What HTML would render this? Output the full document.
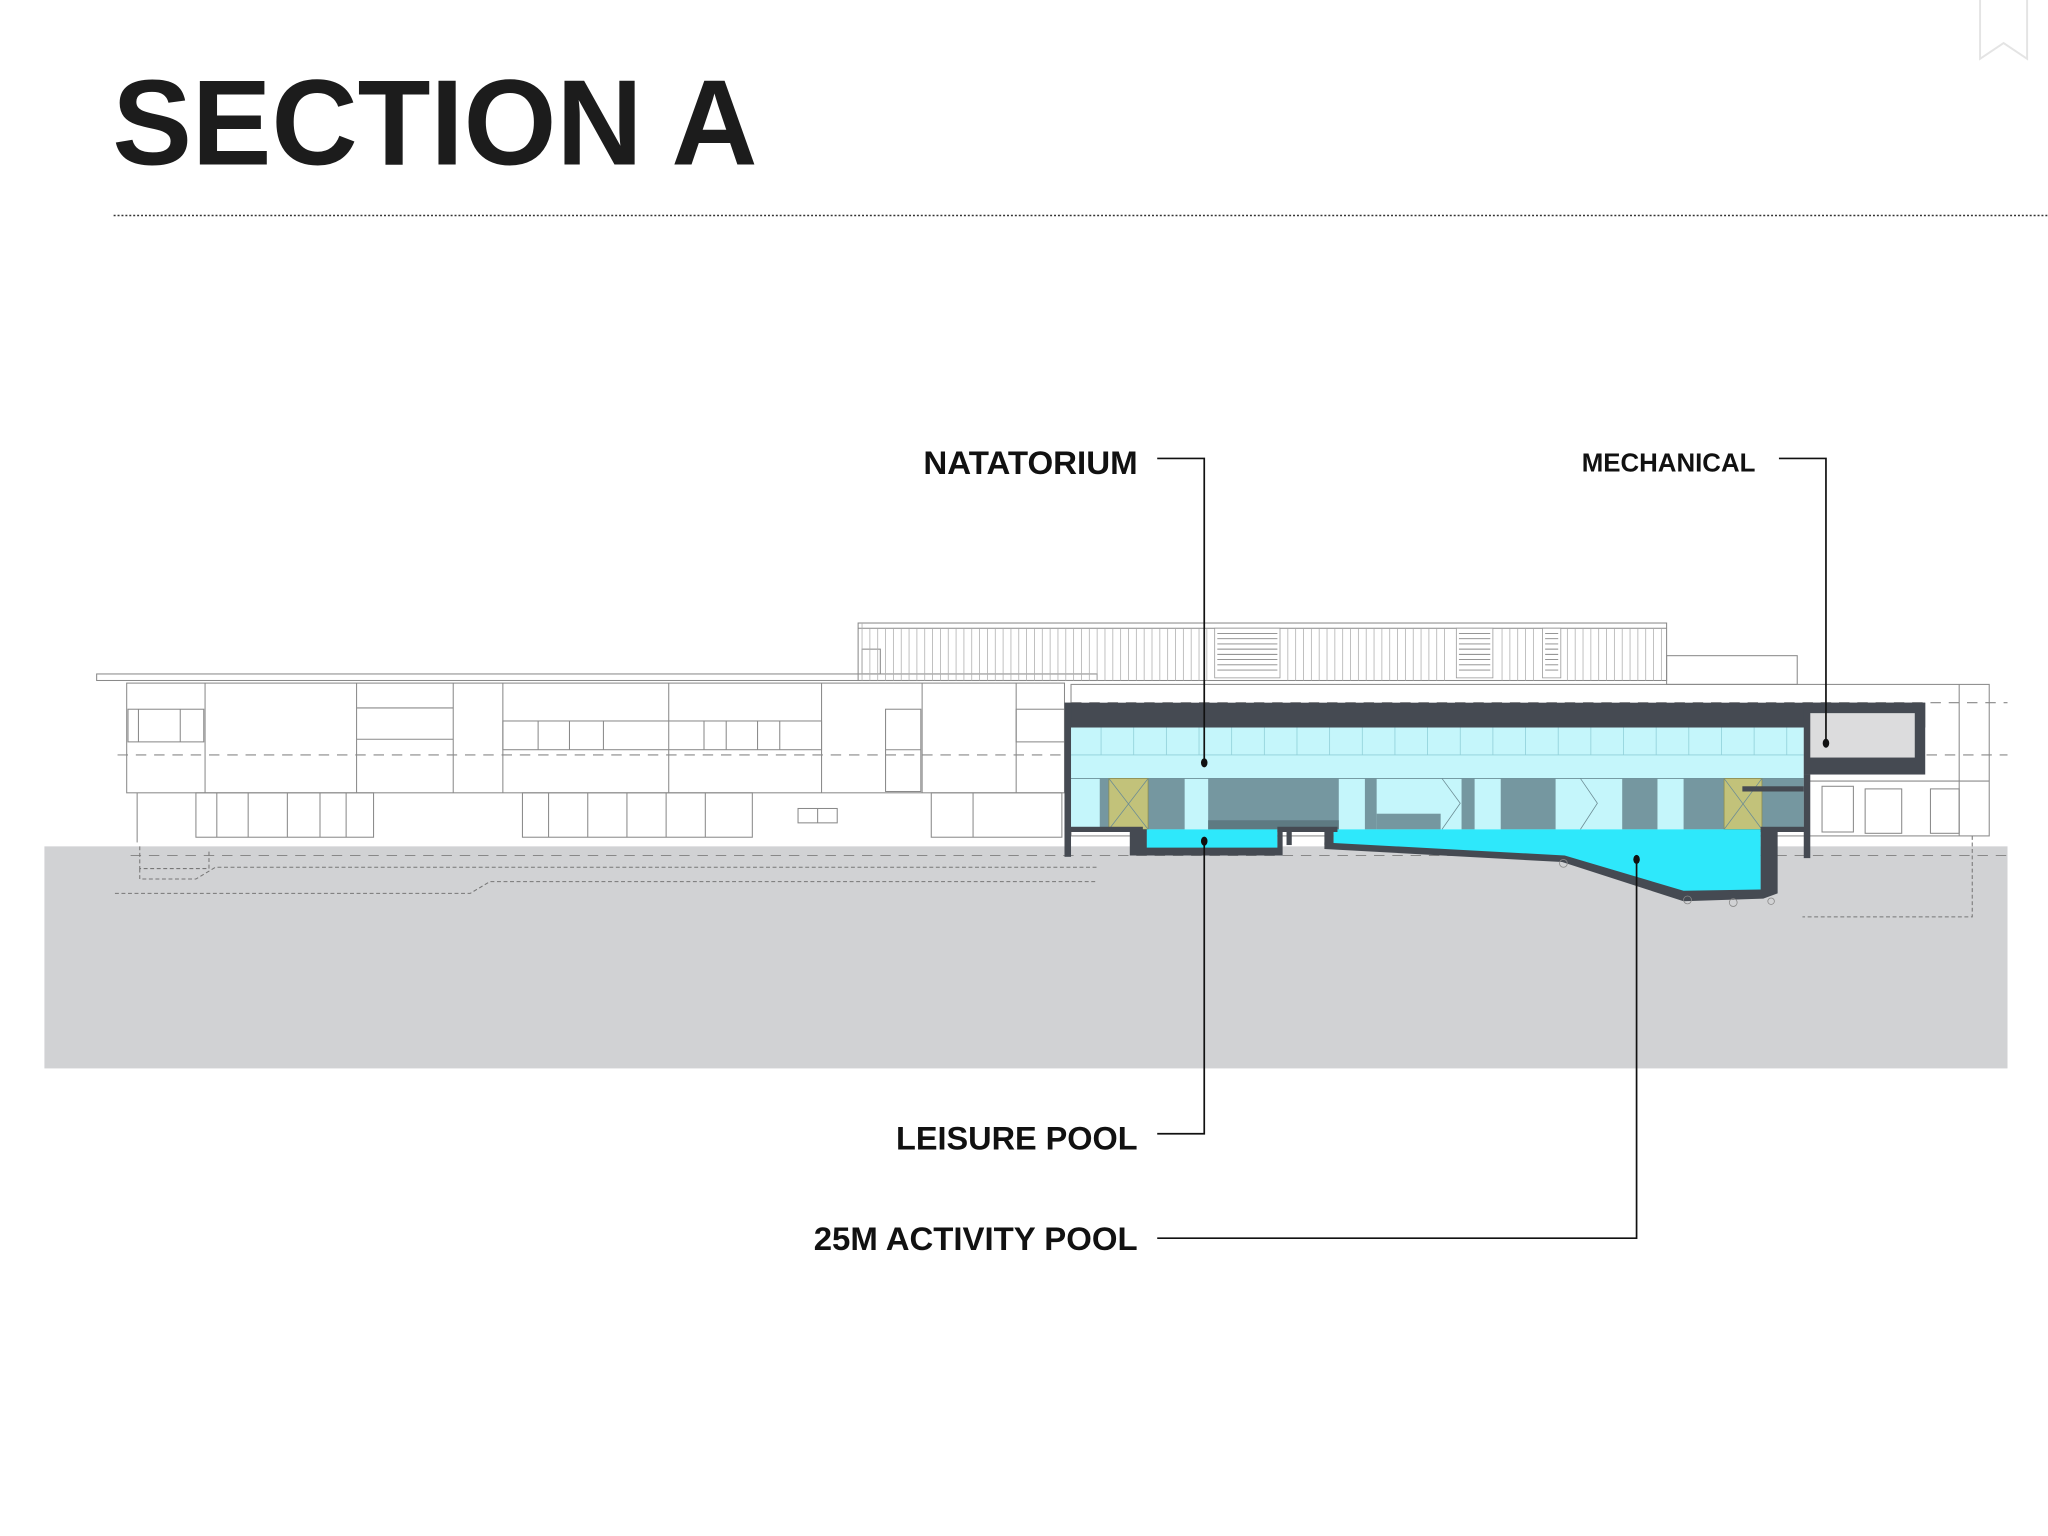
<!DOCTYPE html>
<html><head><meta charset="utf-8"><style>
html,body{margin:0;padding:0;background:#fff;}
svg{display:block;}
</style></head><body>
<svg width="2048" height="1536" viewBox="0 0 1568 1176" xmlns="http://www.w3.org/2000/svg">
<rect width="1568" height="1176" fill="#fff"/>
<!-- bookmark icon -->
<path d="M1516 0 V45 L1534 33 L1552 45 V0" fill="none" stroke="#e4e4e4" stroke-width="1.5"/>
<!-- title -->
<text x="86" y="126" font-family="Liberation Sans, sans-serif" font-weight="bold" font-size="93" fill="#1c1c1c" textLength="494" lengthAdjust="spacingAndGlyphs">SECTION A</text>
<line x1="87" y1="165" x2="1568" y2="165" stroke="#333" stroke-width="1.2" stroke-dasharray="1.5,1.5"/>

<!-- ground -->
<rect x="34" y="648" width="1503" height="170" fill="#d1d2d4"/>

<!-- background linework -->
<g fill="none" stroke="#8a8a8a" stroke-width="0.8">
  <!-- upper rooftop structure -->
  <rect x="657" y="477" width="619" height="44"/>
  <line x1="657" y1="481" x2="1276" y2="481"/>
  <rect x="1276" y="502" width="100" height="22"/>
  <rect x="660" y="497" width="14" height="19"/>
  <!-- left building -->
  <rect x="74" y="516" width="766" height="5"/>
  <rect x="97" y="523" width="718" height="84"/>
  <line x1="157" y1="523" x2="157" y2="607"/><line x1="273" y1="523" x2="273" y2="607"/>
  <line x1="347" y1="523" x2="347" y2="607"/><line x1="385" y1="523" x2="385" y2="607"/>
  <line x1="512" y1="523" x2="512" y2="607"/><line x1="629" y1="523" x2="629" y2="607"/>
  <line x1="706" y1="523" x2="706" y2="607"/><line x1="778" y1="523" x2="778" y2="607"/>
  <line x1="273" y1="542" x2="347" y2="542"/><line x1="273" y1="566" x2="347" y2="566"/>
  <rect x="98" y="543" width="58" height="25"/><line x1="106" y1="543" x2="106" y2="568"/><line x1="138" y1="543" x2="138" y2="568"/>
  <rect x="385" y="552" width="244" height="22"/>
  <line x1="412" y1="552" x2="412" y2="574"/><line x1="436" y1="552" x2="436" y2="574"/><line x1="462" y1="552" x2="462" y2="574"/>
  <line x1="539" y1="552" x2="539" y2="574"/><line x1="556" y1="552" x2="556" y2="574"/><line x1="580" y1="552" x2="580" y2="574"/><line x1="597" y1="552" x2="597" y2="574"/>
  <rect x="678" y="543" width="27" height="63"/><line x1="678" y1="574" x2="705" y2="574"/>
  <rect x="778" y="543" width="37" height="25"/>
  <line x1="105" y1="607" x2="105" y2="645"/>
  <rect x="150" y="607" width="136" height="34"/>
  <line x1="166" y1="607" x2="166" y2="641"/><line x1="190" y1="607" x2="190" y2="641"/><line x1="220" y1="607" x2="220" y2="641"/><line x1="245" y1="607" x2="245" y2="641"/><line x1="265" y1="607" x2="265" y2="641"/>
  <rect x="400" y="607" width="176" height="34"/>
  <line x1="420" y1="607" x2="420" y2="641"/><line x1="450" y1="607" x2="450" y2="641"/><line x1="480" y1="607" x2="480" y2="641"/><line x1="510" y1="607" x2="510" y2="641"/><line x1="540" y1="607" x2="540" y2="641"/>
  <rect x="611" y="619" width="30" height="11"/><line x1="626" y1="619" x2="626" y2="630"/>
  <rect x="713" y="607" width="100" height="34"/><line x1="745" y1="607" x2="745" y2="641"/>
  <!-- right building -->
  <rect x="820" y="524" width="703" height="116"/>
  <line x1="1385" y1="598" x2="1523" y2="598"/>
  <rect x="1395" y="602" width="24" height="35"/>
  <rect x="1428" y="604" width="28" height="34"/>
  <rect x="1478" y="604" width="22" height="34"/>
  <line x1="1500" y1="524" x2="1500" y2="640"/>
</g>
<g stroke="#b0b0b0" stroke-width="0.6">
  <path d="M660 477 V521 M666 481V521 M672 481V521 M678 481V521 M684 481V521 M690 481V521 M696 481V521 M702 481V521 M708 481V521 M714 481V521 M720 481V521 M726 481V521 M732 481V521 M738 481V521 M744 481V521 M750 481V521 M756 481V521 M762 481V521 M768 481V521 M774 481V521 M780 481V521 M786 481V521 M792 481V521 M798 481V521 M804 481V521 M810 481V521 M816 481V521 M822 481V521 M828 481V521 M834 481V521 M840 481V521 M846 481V521 M852 481V521 M858 481V521 M864 481V521 M870 481V521 M876 481V521 M882 481V521 M888 481V521 M894 481V521 M900 481V521 M906 481V521 M912 481V521 M918 481V521 M924 481V521 M986 481V521 M992 481V521 M998 481V521 M1004 481V521 M1010 481V521 M1016 481V521 M1022 481V521 M1028 481V521 M1034 481V521 M1040 481V521 M1046 481V521 M1052 481V521 M1058 481V521 M1064 481V521 M1070 481V521 M1076 481V521 M1082 481V521 M1088 481V521 M1094 481V521 M1100 481V521 M1106 481V521 M1150 481V521 M1156 481V521 M1162 481V521 M1168 481V521 M1174 481V521 M1200 481V521 M1206 481V521 M1212 481V521 M1218 481V521 M1224 481V521 M1230 481V521 M1236 481V521 M1242 481V521 M1248 481V521 M1254 481V521 M1260 481V521 M1266 481V521 M1272 481V521"/>
</g>
<g fill="#fff" stroke="#999" stroke-width="0.6">
  <rect x="930" y="481" width="50" height="38"/><rect x="1115" y="481" width="28" height="38"/><rect x="1181" y="481" width="14" height="38"/>
</g>
<g stroke="#888" stroke-width="0.7">
  <path d="M932 485H978M932 489H978M932 493H978M932 497H978M932 501H978M932 505H978M932 509H978M932 513H978M1117 485H1141M1117 489H1141M1117 493H1141M1117 497H1141M1117 501H1141M1117 505H1141M1117 509H1141M1117 513H1141M1183 485H1193M1183 489H1193M1183 493H1193M1183 497H1193M1183 501H1193M1183 505H1193M1183 509H1193M1183 513H1193"/>
</g>
<g fill="none" stroke="#888" stroke-width="0.8" stroke-dasharray="8,6">
  <line x1="90" y1="578" x2="815" y2="578"/>
  <line x1="820" y1="538" x2="1537" y2="538"/>
  <line x1="1475" y1="578" x2="1537" y2="578"/>
  <line x1="100" y1="655" x2="1537" y2="655"/>
</g>
<g fill="none" stroke="#777" stroke-width="0.8" stroke-dasharray="3,2">
  <path d="M107 648 V665 H160 V652"/>
  <path d="M107 665 V673 H150 L165 664 H840"/>
  <path d="M88 684 H360 L375 675 H840"/>
  <path d="M1510 640 V702 H1380"/>
</g>

<!-- natatorium section -->
<!-- light cyan interior -->
<rect x="819" y="557" width="562" height="78" fill="#c5f6fb"/>
<g stroke="#8fcfd8" stroke-width="0.6">
  <line x1="819" y1="578" x2="1381" y2="578"/>
  <path d="M843 557V578M868 557V578M893 557V578M918 557V578M943 557V578M968 557V578M993 557V578M1018 557V578M1043 557V578M1068 557V578M1093 557V578M1118 557V578M1143 557V578M1168 557V578M1193 557V578M1218 557V578M1243 557V578M1268 557V578M1293 557V578M1318 557V578M1343 557V578M1368 557V578"/>
</g>
<line x1="819" y1="596" x2="1381" y2="596" stroke="#6a8f98" stroke-width="0.6"/>
<g fill="#7597a0">
  <rect x="842" y="596" width="7" height="39"/>
  <rect x="879" y="596" width="28" height="39"/>
  <rect x="925" y="596" width="100" height="39"/>
  <rect x="1045" y="596" width="9" height="39"/>
  <rect x="1054" y="623" width="49" height="12"/>
  <rect x="1119" y="596" width="10" height="39"/>
  <rect x="1149" y="596" width="42" height="39"/>
  <rect x="1242" y="596" width="27" height="39"/>
  <rect x="1289" y="596" width="31" height="39"/>
  <rect x="1349" y="596" width="32" height="39"/>
</g>
<rect x="925" y="628" width="100" height="7" fill="#5e7a82"/>
<g fill="#c2c27a" stroke="#8c8c50" stroke-width="0.6">
  <rect x="849" y="596" width="30" height="39"/>
  <rect x="1320" y="596" width="29" height="39"/>
</g>
<g fill="none" stroke="#6c8c94" stroke-width="0.6">
  <path d="M849 596 L879 635 M879 596 L849 635 M1320 596 L1349 635 M1349 596 L1320 635"/>
  <path d="M1104 596 L1118 615 L1104 635 M1210 596 L1223 615 L1210 635"/>
</g>
<!-- roof and mechanical -->
<rect x="815" y="538" width="659" height="19" fill="#454a52"/>
<rect x="1381" y="538" width="93" height="55" fill="#454a52"/>
<rect x="1386" y="546" width="80" height="34" fill="#dcdcdd"/>
<rect x="815" y="538" width="5" height="118" fill="#454a52"/>
<rect x="1381" y="593" width="5" height="64" fill="#454a52"/>
<rect x="1334" y="602" width="47" height="4" fill="#454a52"/>
<!-- pools -->
<rect x="875" y="635" width="103" height="16" fill="#2ee8fb"/>
<path d="M1021 635 H1348 V683 L1289 684 L1198 656 L1021 646 Z" fill="#2ee8fb"/>
<g fill="#454a52">
  <rect x="815" y="633" width="60" height="4"/>
  <path d="M865 635 H878 V649 H978 V635 H990 V637 H982 V655 H865 Z"/>
  <rect x="978" y="633" width="46" height="4"/>
  <rect x="985" y="637" width="4" height="10"/>
  <rect x="1014" y="637" width="7" height="10"/>
  <path d="M1014 645 L1198 655 L1289 682 L1348 681 V635 H1361 V684 L1350 688 L1289 690 L1196 660 L1014 650 Z"/>
  <rect x="1348" y="633" width="37" height="4"/>
</g>
<g fill="none" stroke="#888" stroke-width="0.6">
  <circle cx="1197" cy="661" r="3"/><circle cx="1292" cy="689" r="3"/><circle cx="1327" cy="691" r="3"/><circle cx="1356" cy="690" r="2.5"/>
</g>

<!-- labels and leaders -->
<g font-family="Liberation Sans Narrow, Liberation Sans, sans-serif" font-weight="bold" fill="#111" text-anchor="end">
  <text x="871" y="363" font-size="25" textLength="164" lengthAdjust="spacingAndGlyphs">NATATORIUM</text>
  <text x="1344" y="361" font-size="20" textLength="133" lengthAdjust="spacingAndGlyphs">MECHANICAL</text>
  <text x="871" y="880" font-size="25" textLength="185" lengthAdjust="spacingAndGlyphs">LEISURE POOL</text>
  <text x="871" y="957" font-size="25" textLength="248" lengthAdjust="spacingAndGlyphs">25M ACTIVITY POOL</text>
</g>
<g fill="none" stroke="#111" stroke-width="1.3">
  <path d="M886 351 H922 V584"/>
  <path d="M1362 351 H1398 V569"/>
  <path d="M922 644 V868 H886"/>
  <path d="M1253 658 V948 H886"/>
</g>
<g fill="#111">
  <ellipse cx="922" cy="584" rx="2.5" ry="3.5"/>
  <ellipse cx="1398" cy="569" rx="2.5" ry="3.5"/>
  <ellipse cx="922" cy="644" rx="2.5" ry="3.5"/>
  <ellipse cx="1253" cy="658" rx="2.5" ry="3.5"/>
</g>
</svg>
</body></html>
